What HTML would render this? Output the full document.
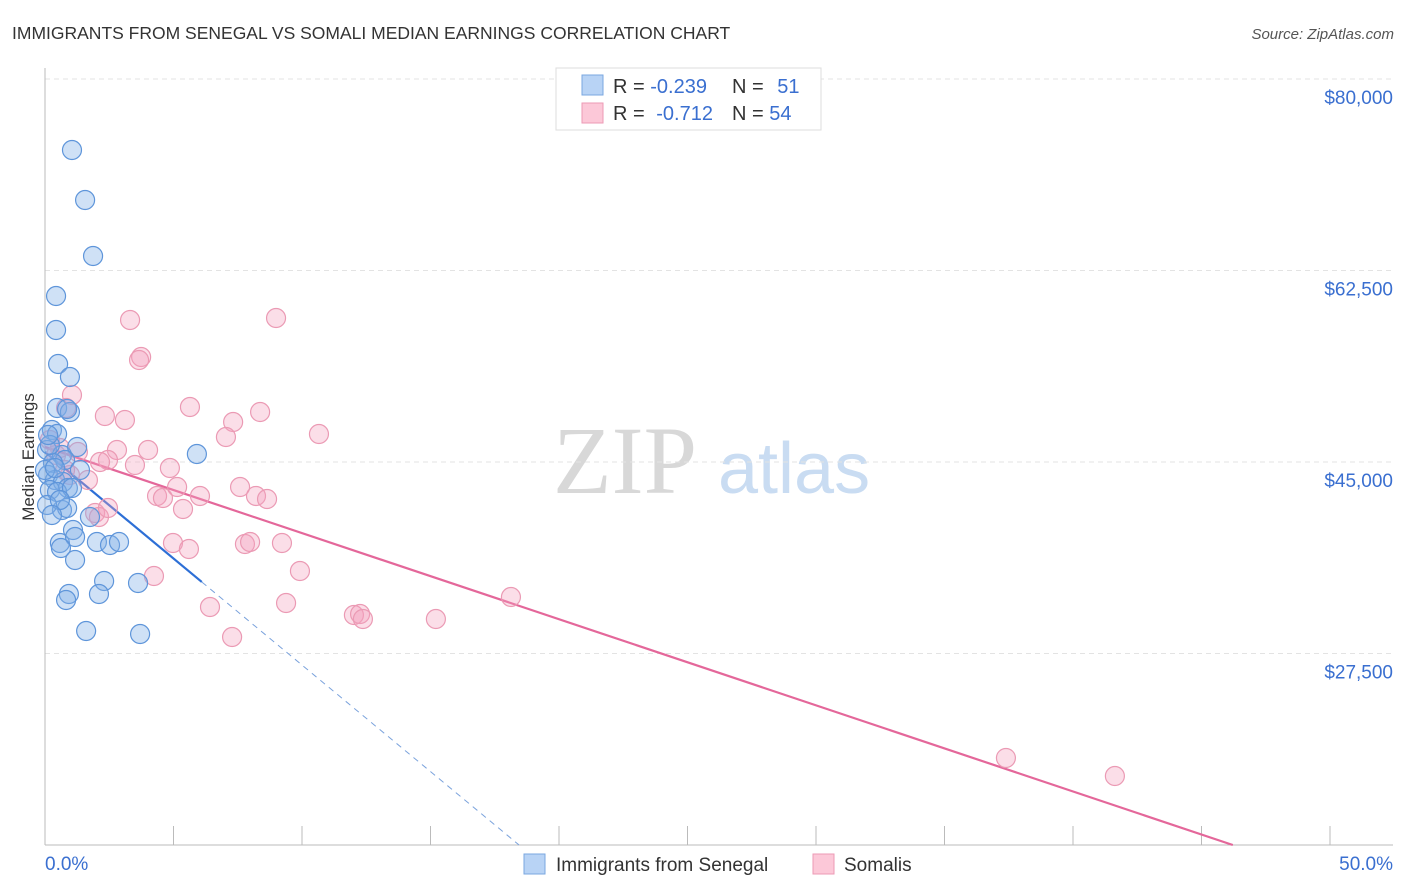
<!DOCTYPE html>
<html><head><meta charset="utf-8"><style>
body{margin:0;background:#fff;font-family:"Liberation Sans",sans-serif;}
svg{display:block}
</style></head><body>
<svg id="chart" width="1406" height="892" font-family="Liberation Sans, sans-serif">
<text x="12" y="39" font-size="17.5" fill="#333">IMMIGRANTS FROM SENEGAL VS SOMALI MEDIAN EARNINGS CORRELATION CHART</text>
<text x="1394" y="39" font-size="15" fill="#555" font-style="italic" text-anchor="end">Source: ZipAtlas.com</text>
<g>
<text x="553" y="493" font-size="96" font-family="Liberation Serif, serif" fill="#d8d8d8">ZIP</text>
<text x="718" y="493" font-size="72" fill="#c9dcf2">atlas</text>
</g>
<g id="grid"></g>
<g id="axes"></g>
<text transform="translate(34,457) rotate(-90)" font-size="17" fill="#333" text-anchor="middle">Median Earnings</text>
<g id="lines"></g>
<g id="points"></g>
<g>
<rect x="556" y="68" width="265" height="62" fill="#fff" stroke="#ddd"/>
<rect x="582" y="75" width="21" height="20" fill="#b8d3f5" stroke="#7aa7e0"/>
<rect x="582" y="103" width="21" height="20" fill="#fcc8d8" stroke="#ec9ab5"/>
<text x="613" y="93" font-size="20" fill="#333">R = <tspan fill="#3a6fd0">-0.239</tspan></text>
<text x="732" y="93" font-size="20" fill="#333">N = <tspan fill="#3a6fd0" dx="8">51</tspan></text>
<text x="613" y="120" font-size="20" fill="#333">R = <tspan fill="#3a6fd0" dx="6">-0.712</tspan></text>
<text x="732" y="120" font-size="20" fill="#333">N = <tspan fill="#3a6fd0">54</tspan></text>
</g>
<g>
<rect x="524" y="854" width="21" height="20" fill="#b8d3f5" stroke="#7aa7e0"/>
<text x="556" y="871" font-size="19" fill="#333">Immigrants from Senegal</text>
<rect x="813" y="854" width="21" height="20" fill="#fcc8d8" stroke="#ec9ab5"/>
<text x="844" y="871" font-size="19" fill="#333">Somalis</text>
</g>
</svg>
<script>
const yTicks=[80000,62500,45000,27500];
const yTickLabels=["$80,000","$62,500","$45,000","$27,500"];
const xTickLabels=["0.0%","50.0%"];
const senegalX=[1.05,1.56,1.87,0.43,0.43,0.51,0.97,0.47,0.97,0.86,0.27,0.47,0.08,0.66,1.25,0.78,0.31,0.12,0.39,0.70,0.89,0.19,0.47,1.05,0.66,0.08,0.86,1.75,1.09,0.58,1.17,2.02,2.53,2.88,0.62,1.17,2.30,3.62,0.93,0.82,2.10,1.60,3.70,5.91,0,0.19,0.58,0.27,0.12,0.39,1.36];
const senegalY=[73512,68943,63826,60171,57064,53957,52769,49937,49571,49845,47926,47560,46098,45641,46373,45184,44910,43813,43356,43174,42625,42442,42260,42625,40615,41072,40798,39975,38787,37600,38148,37691,37417,37691,37143,36046,34127,33944,32939,32391,32939,29558,29284,45733,44270,46555,41529,40158,47469,44453,44270];
const somaliX=[3.31,8.99,3.74,3.66,1.05,0.82,2.33,3.11,5.64,8.37,7.32,7.04,10.66,2.80,4.01,2.45,0.43,1.28,3.50,4.86,2.14,0.97,1.67,4.36,4.59,5.14,5.37,6.03,7.59,8.21,8.64,1.95,2.10,2.45,4.98,5.60,7.78,7.98,9.22,9.92,4.24,6.42,9.38,7.28,12.02,12.26,12.37,15.21,18.13,37.39,41.63,0.58,0.78,0.19];
const somaliY=[57978,58160,54597,54323,51125,49937,49206,48840,50028,49571,48657,47286,47560,46098,46098,45184,45641,45915,44727,44453,45001,43813,43356,41894,41711,42717,40706,41894,42717,41894,41620,40341,39975,40798,37600,37051,37508,37691,37600,35041,34584,31751,32117,29010,31020,31112,30655,30655,32665,17953,16308,46281,44270,47012];
const senegalFit={intercept:45915,slope:-1947,solidEnd:6.1};
const somaliFit={intercept:46373,slope:-787};
const X0=45,X1=1330,XMIN=0,XMAX=50,Y0=79,YV0=80000,PXPER=0.010943,YBOT=845;
const sx=v=>X0+(v-XMIN)/(XMAX-XMIN)*(X1-X0);
const sy=v=>Y0+(YV0-v)*PXPER;
const NS="http://www.w3.org/2000/svg";
function mk(tag,attrs,parent){const e=document.createElementNS(NS,tag);for(const k in attrs)e.setAttribute(k,attrs[k]);parent.appendChild(e);return e;}
const grid=document.getElementById('grid'),axes=document.getElementById('axes');
yTicks.forEach((t,i)=>{
  const g=mk('line',{x1:45,x2:1393,y1:sy(t),y2:sy(t),stroke:'#e3e3e3','stroke-dasharray':'5,4'},grid);
  
  
  const tx=mk('text',{x:1393,y:sy(t)+25,'font-size':19,fill:'#3a6fd0','text-anchor':'end'},axes);
  tx.textContent=yTickLabels[i];
  
  
});
mk('line',{x1:45,x2:45,y1:68,y2:845,stroke:'#bbb'},axes);
mk('line',{x1:45,x2:1393,y1:845,y2:845,stroke:'#bbb'},axes);
for(let i=0;i<=10;i++){const l=mk('line',{x1:sx(i*5),x2:sx(i*5),y1:826,y2:845,stroke:'#bbb'},axes);
  
  }
[0,50].forEach((v,i)=>{const t=mk('text',{x:i?1393:45,y:870,'font-size':19,fill:'#3a6fd0','text-anchor':i?'end':'start'},axes);
  t.textContent=xTickLabels[i];
  
  });
const pts=document.getElementById('points');
somaliX.forEach((x,i)=>{const c=mk('circle',{cx:sx(x),cy:sy(somaliY[i]),r:9.5,fill:'rgba(244,160,188,0.35)',stroke:'#eb9ab4','stroke-width':1.2},pts);
  
  });
senegalX.forEach((x,i)=>{const c=mk('circle',{cx:sx(x),cy:sy(senegalY[i]),r:9.5,fill:'rgba(130,175,232,0.38)',stroke:'#5e95da','stroke-width':1.2},pts);
  
  });
const lines=document.getElementById('lines');
const pEnd=(somaliFit.intercept-10000)/-somaliFit.slope;
const pl=mk('line',{x1:sx(0),y1:sy(somaliFit.intercept),x2:sx(pEnd),y2:sy(10000),stroke:'#e4679a','stroke-width':2.2},lines);


const bEnd=(senegalFit.intercept-10000)/-senegalFit.slope;
const bs=senegalFit.solidEnd;
const bl=mk('line',{x1:sx(0),y1:sy(senegalFit.intercept),x2:sx(bs),y2:sy(senegalFit.intercept+senegalFit.slope*bs),stroke:'#2d6fd6','stroke-width':2.2},lines);


const bd=mk('line',{x1:sx(bs),y1:sy(senegalFit.intercept+senegalFit.slope*bs),x2:sx(bEnd),y2:sy(10000),stroke:'#7aa2dc','stroke-width':1,'stroke-dasharray':'6,5'},lines);


</script>
</body></html>
